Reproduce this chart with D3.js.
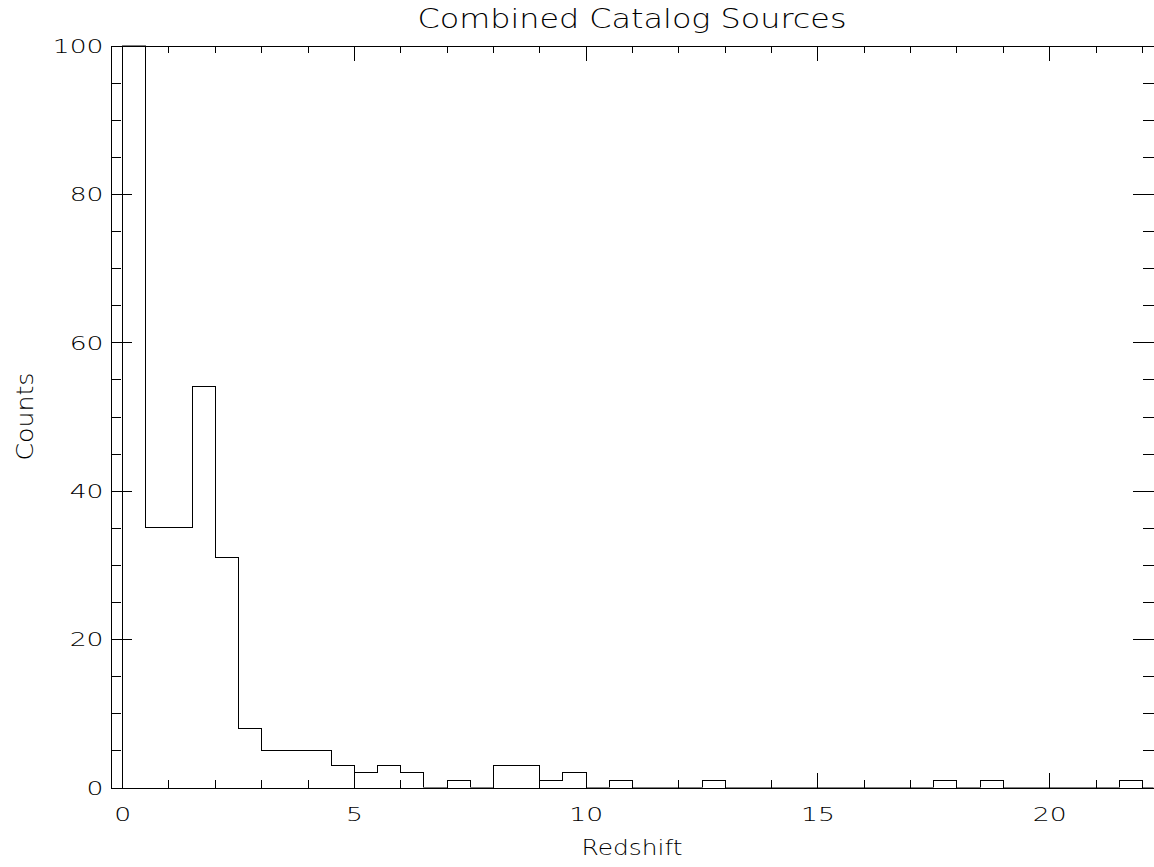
<!DOCTYPE html>
<html>
<head>
<meta charset="utf-8">
<script src="https://cdn.jsdelivr.net/npm/d3@7"></script>
<style>
  html, body { margin: 0; padding: 0; background: #fff; }
  svg { display: block; }
  text { font-family: 'DejaVu Sans', sans-serif; font-weight: 200; fill: #000; }
</style>
</head>
<body>
<svg id="graph"></svg>
<script>
(function() {

  // histogram of redshifts, bins of 0.5 starting at z = 0
  var binWidth = 0.5;
  var counts = [100, 35, 35, 54, 31, 8, 5, 5, 5, 3, 2, 3, 2, 0, 1, 0, 3, 3, 1, 2,
    0, 1, 0, 0, 0, 1, 0, 0, 0, 0, 0, 0, 0, 0, 0, 1, 0, 1, 0, 0, 0, 0, 0, 1];
  var xMajor = [0, 5, 10, 15, 20];
  var xMinor = [1, 2, 3, 4, 6, 7, 8, 9, 11, 12, 13, 14, 16, 17, 18, 19, 21, 22];
  var yMajor = [0, 20, 40, 60, 80, 100];
  var yMinor = [5, 10, 15, 25, 30, 35, 45, 50, 55, 65, 70, 75, 85, 90, 95];

  var WIDTH = 1154;
  var HEIGHT = 867;
  var left = 110.5, right = 1153.5, top = 45.5, bottom = 787.5;

  var svg = d3.select('#graph')
    .attr('width', WIDTH)
    .attr('height', HEIGHT);

  var x = d3.scaleLinear().domain([-0.25, 22.25]).range([left, right]);
  var y = d3.scaleLinear().domain([0, 100]).range([bottom, top]);

  svg.append('defs').append('clipPath')
    .attr('id', 'plot-clip')
    .append('rect')
    .attr('x', left).attr('y', top)
    .attr('width', right - left).attr('height', bottom - top);

  // step outline
  var pts = [{ x: 0, y: 0 }];
  counts.forEach(function(c, i) { pts.push({ x: i * binWidth, y: c }); });
  pts.push({ x: counts.length * binWidth, y: 0 });
  pts.push({ x: 22.25, y: 0 });

  var line = d3.line()
    .x(function(d) { return Math.round(x(d.x)) + 0.5; })
    .y(function(d) { return Math.round(y(d.y) - 0.5) + 0.5; })
    .curve(d3.curveStepAfter);

  svg.append('path')
    .datum(pts)
    .attr('clip-path', 'url(#plot-clip)')
    .attr('d', line)
    .attr('fill', 'none')
    .attr('stroke', '#000')
    .attr('stroke-width', 1)
    .attr('shape-rendering', 'crispEdges');

  function addAxis(axis, tx, ty) {
    var g = svg.append('g')
      .attr('transform', 'translate(' + tx + ',' + ty + ')')
      .call(axis);
    g.selectAll('path, line').attr('stroke', '#000').attr('shape-rendering', 'crispEdges');
    g.selectAll('text').attr('font-family', null).attr('font-size', null).attr('fill', '#000');
    return g;
  }

  var xlen = 15, ylen = 21;

  // bottom
  var gb = addAxis(d3.axisBottom(x).tickValues(xMajor).tickSize(-xlen).tickSizeOuter(0)
    .tickPadding(20).tickFormat(d3.format('d')), 0, bottom);
  gb.selectAll('text').style('font-size', '19px').attr('transform', 'scale(1.4,1)');
  addAxis(d3.axisBottom(x).tickValues(xMinor).tickSize(-xlen / 2).tickSizeOuter(0).tickFormat(''), 0, bottom);
  // top
  addAxis(d3.axisTop(x).tickValues(xMajor).tickSize(-xlen).tickSizeOuter(0).tickFormat(''), 0, top);
  addAxis(d3.axisTop(x).tickValues(xMinor).tickSize(-xlen / 2).tickSizeOuter(0).tickFormat(''), 0, top);
  // left
  var gl = addAxis(d3.axisLeft(y).tickValues(yMajor).tickSize(-ylen).tickSizeOuter(0)
    .tickPadding(5).tickFormat(d3.format('d')), left, 0);
  gl.selectAll('text').style('font-size', '19px').attr('dy', '0.36em').attr('transform', 'scale(1.4,1)');
  addAxis(d3.axisLeft(y).tickValues(yMinor).tickSize(-ylen / 2).tickSizeOuter(0).tickFormat(''), left, 0);
  // right
  addAxis(d3.axisRight(y).tickValues(yMajor).tickSize(-ylen).tickSizeOuter(0).tickFormat(''), right, 0);
  addAxis(d3.axisRight(y).tickValues(yMinor).tickSize(-ylen / 2).tickSizeOuter(0).tickFormat(''), right, 0);

  var cx = (left + right) / 2;

  svg.append('text')
    .attr('x', cx).attr('y', 28)
    .attr('text-anchor', 'middle')
    .style('font-size', '27px')
    .attr('textLength', 429)
    .attr('lengthAdjust', 'spacingAndGlyphs')
    .text('Combined Catalog Sources');

  svg.append('text')
    .attr('x', cx).attr('y', 855)
    .attr('text-anchor', 'middle')
    .style('font-size', '21px')
    .attr('textLength', 101)
    .attr('lengthAdjust', 'spacingAndGlyphs')
    .text('Redshift');

  svg.append('text')
    .attr('transform', 'translate(33,' + ((top + bottom) / 2) + ') rotate(-90)')
    .attr('text-anchor', 'middle')
    .style('font-size', '23px')
    .attr('textLength', 88)
    .attr('lengthAdjust', 'spacingAndGlyphs')
    .text('Counts');

})();
</script>
</body>
</html>
